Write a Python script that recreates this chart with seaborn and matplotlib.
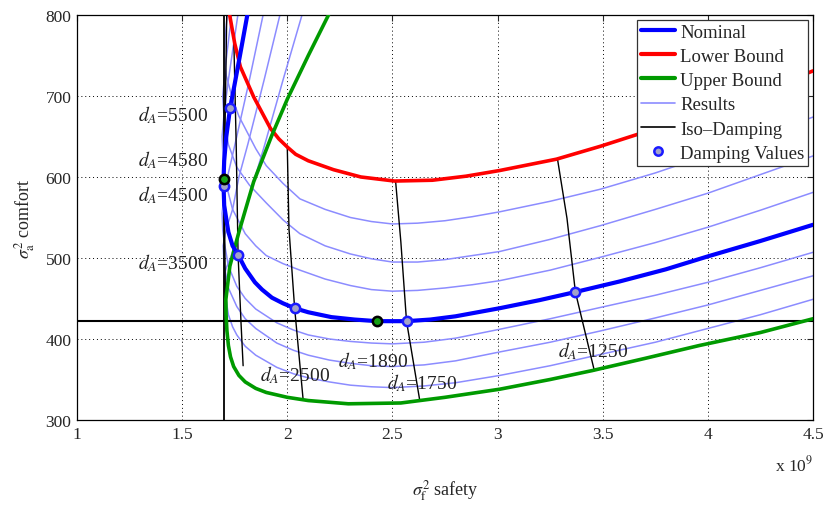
import matplotlib
matplotlib.use("Agg")
import matplotlib.pyplot as plt
from matplotlib.lines import Line2D
import seaborn as sns

# safety values are in units of 1e9
nominal_x = [1.81, 1.775, 1.75, 1.728, 1.71, 1.70, 1.697, 1.697, 1.70, 1.71, 1.72, 1.74, 1.766, 1.80,
             1.846, 1.88, 1.927, 1.98, 2.035, 2.1, 2.21, 2.32, 2.427, 2.567, 2.68, 2.8, 3.01, 3.2,
             3.37, 3.58, 3.8, 4.0, 4.25, 4.5]
nominal_y = [800, 750, 715, 685, 650, 620, 598, 589, 565, 548, 532, 515, 504, 487,
             470, 461, 451, 444, 438, 433, 427, 424, 422, 422, 424, 428, 438, 448,
             458, 471, 486, 502, 521, 541]

lower_x = [1.726, 1.75, 1.777, 1.84, 1.92, 1.96, 2.0, 2.04, 2.1, 2.22, 2.35, 2.51, 2.69, 2.85,
           3.01, 3.28, 3.49, 3.67, 4.0, 4.25, 4.5]
lower_y = [800, 765, 736, 699, 660, 647, 637, 628, 620, 609, 600, 595, 596, 601,
           608, 622, 638, 653, 682, 705, 731]

upper_x = [2.196, 2.10, 2.00, 1.926, 1.84, 1.77, 1.727, 1.708, 1.709, 1.713, 1.72, 1.73, 1.745,
           1.77, 1.80, 1.85, 1.90, 2.0, 2.1, 2.29, 2.54, 2.75, 3.01, 3.25, 3.45, 3.7, 3.96, 4.25, 4.5]
upper_y = [800, 750, 696, 651, 594, 532, 490, 449, 430, 410, 392, 378, 366,
           355, 347, 339, 334, 328, 324, 320, 321, 328, 338, 350, 361, 376, 392, 408, 425]

res1_x = [1.715, 1.705, 1.70, 1.71, 1.74, 1.77, 1.81, 1.85, 1.90, 1.98, 2.06, 2.18, 2.3, 2.4, 2.5,
          2.62, 2.75, 2.88, 3.01, 3.25, 3.49, 3.75, 4.0, 4.25, 4.5]
res1_y = [800, 775, 750, 725, 696, 675, 655, 635, 614, 592, 573, 560, 550, 545, 542,
          543, 546, 551, 557, 570, 585, 605, 627, 650, 674]
res2_x = [1.735, 1.705, 1.693, 1.70, 1.72, 1.76, 1.82, 1.90, 1.98, 2.06, 2.18, 2.3, 2.4, 2.5,
          2.62, 2.75, 2.88, 3.01, 3.25, 3.49, 3.75, 4.0, 4.25, 4.5]
res2_y = [800, 735, 700, 670, 640, 612, 590, 568, 547, 530, 515, 505, 499, 495,
          495, 498, 503, 508, 523, 540, 560, 580, 603, 626]
res3_x = [1.765, 1.72, 1.70, 1.69, 1.695, 1.71, 1.74, 1.80, 1.85, 1.90, 1.98, 2.06, 2.18, 2.3,
          2.4, 2.5, 2.62, 2.75, 2.88, 3.01, 3.25, 3.49, 3.75, 4.0, 4.25, 4.5]
res3_y = [800, 720, 680, 650, 620, 590, 560, 530, 515, 503, 493, 485, 474, 466,
          461, 459, 460, 463, 467, 472, 485, 501, 519, 538, 559, 581]
res4_x = [1.885, 1.82, 1.752, 1.72, 1.70, 1.69, 1.693, 1.70, 1.72, 1.76, 1.80, 1.85, 1.95, 2.03,
          2.1, 2.2, 2.3, 2.4, 2.5, 2.65, 2.8, 3.01, 3.25, 3.49, 3.75, 4.0, 4.25, 4.5]
res4_y = [800, 720, 641, 605, 580, 555, 535, 520, 490, 465, 450, 437, 420, 411,
          405, 400, 397, 395, 394, 396, 401, 412, 425, 439, 454, 470, 488, 507]
res5_x = [1.965, 1.89, 1.813, 1.77, 1.74, 1.715, 1.705, 1.695, 1.70, 1.72, 1.76, 1.80, 1.85, 1.95,
          2.03, 2.1, 2.2, 2.3, 2.4, 2.5, 2.65, 2.8, 3.01, 3.25, 3.49, 3.75, 4.0, 4.25, 4.5]
res5_y = [800, 720, 641, 600, 560, 540, 530, 515, 490, 463, 440, 425, 413, 395,
          386, 380, 374, 370, 367, 366, 368, 373, 384, 396, 410, 426, 442, 460, 478]
res6_x = [2.07, 1.98, 1.894, 1.83, 1.78, 1.75, 1.73, 1.71, 1.70, 1.705, 1.72, 1.74, 1.76, 1.80,
          1.85, 1.95, 2.03, 2.1, 2.2, 2.3, 2.4, 2.5, 2.65, 2.8, 3.01, 3.25, 3.49, 3.75, 4.0,
          4.25, 4.5]
res6_y = [800, 720, 641, 585, 540, 517, 500, 488, 478, 455, 430, 415, 405, 391,
          380, 365, 357, 352, 347, 343, 341, 340, 342, 346, 355, 367, 381, 396, 413,
          430, 449]
results = [(res1_x, res1_y), (res2_x, res2_y), (res3_x, res3_y),
           (res4_x, res4_y), (res5_x, res5_y), (res6_x, res6_y)]

iso_1250_x = [3.285, 3.33, 3.37, 3.46]
iso_1250_y = [622, 549, 458, 361]
iso_1750_x = [2.515, 2.54, 2.567, 2.63]
iso_1750_y = [595, 520, 422, 324]
iso_2500_x = [2.00, 2.008, 2.035, 2.075]
iso_2500_y = [637, 536, 438, 326]
iso_3500_x = [1.745, 1.757, 1.766, 1.78, 1.79]
iso_3500_y = [778, 641, 504, 420, 367]
iso_4500_x = [1.712, 1.700, 1.706]
iso_4500_y = [800, 589, 445]
iso_lines = [(iso_1250_x, iso_1250_y), (iso_1750_x, iso_1750_y), (iso_2500_x, iso_2500_y),
             (iso_3500_x, iso_3500_y), (iso_4500_x, iso_4500_y)]

damp_x = [1.728, 1.697, 1.766, 2.035, 2.567, 3.37]
damp_y = [685, 589, 504, 438, 422, 458]
opt_x = [1.697, 2.427]
opt_y = [598, 422]

min_safety = 1.697
min_comfort = 422

labels = ["5500", "4580", "4500", "3500", "2500", "1890", "1750", "1250"]
label_x = [1.623, 1.623, 1.623, 1.623, 1.87, 2.24, 2.474, 3.287]
label_y = [678, 622, 579, 495, 357, 374, 347, 386]
label_ha = ["right", "right", "right", "right", "left", "left", "left", "left"]

sns.set_style("white")
plt.rcParams["font.family"] = ["Liberation Serif", "DejaVu Serif"]
plt.rcParams["mathtext.fontset"] = "stix"

fig, ax = plt.subplots(figsize=(8.26, 5.06), dpi=100)
fig.subplots_adjust(left=0.0932, right=0.9843, top=0.9684, bottom=0.168)

res_color = "#8c8cff"
for rx, ry in results:
    sns.lineplot(x=rx, y=ry, sort=False, estimator=None, color=res_color, lw=1.1, ax=ax, zorder=2)

for ix, iy in iso_lines:
    sns.lineplot(x=ix, y=iy, sort=False, estimator=None, color="black", lw=1.0, ax=ax, zorder=3)

ax.axvline(min_safety, color="black", lw=1.3, zorder=3)
ax.axhline(min_comfort, color="black", lw=1.5, zorder=3)

sns.lineplot(x=lower_x, y=lower_y, sort=False, estimator=None, color="#ff0000", lw=2.6, ax=ax, zorder=4)
sns.lineplot(x=upper_x, y=upper_y, sort=False, estimator=None, color="#009a00", lw=2.6, ax=ax, zorder=4)
sns.lineplot(x=nominal_x, y=nominal_y, sort=False, estimator=None, color="#0000ff", lw=3.0, ax=ax, zorder=5)

sns.scatterplot(x=damp_x, y=damp_y, s=45, color="#a3a3c8", edgecolor="#1a1aff", linewidth=1.8,
                ax=ax, zorder=6)
sns.scatterplot(x=opt_x, y=opt_y, s=45, color="#14a014", edgecolor="black", linewidth=1.8,
                ax=ax, zorder=6)

for t, tx, ty, ha in zip(labels, label_x, label_y, label_ha):
    ax.text(tx, ty, r"$d_A$=" + t, ha=ha, va="center", fontsize=14, color="#222222", zorder=7)

ax.set_xlim(1, 4.5)
ax.set_ylim(300, 800)
ax.set_xticks([1, 1.5, 2, 2.5, 3, 3.5, 4, 4.5])
ax.set_xticklabels(["1", "1.5", "2", "2.5", "3", "3.5", "4", "4.5"])
ax.set_yticks([300, 400, 500, 600, 700, 800])
ax.tick_params(direction="in", length=4, labelsize=12.5, top=True, right=True, pad=4)
ax.grid(True, linestyle=(0, (1, 3)), color="black", lw=0.7)
for sp in ax.spines.values():
    sp.set_color("black")
    sp.set_linewidth(0.9)

ax.set_xlabel(r"$\sigma_\mathrm{f}^2$ safety", fontsize=13, labelpad=26)
ax.set_ylabel(r"$\sigma_\mathrm{a}^2$ comfort", fontsize=13, labelpad=6)
ax.text(1.0, -0.085, r"x 10$^9$", transform=ax.transAxes, ha="right", va="top", fontsize=12.5)

handles = [
    Line2D([], [], color="#0000ff", lw=3.0),
    Line2D([], [], color="#ff0000", lw=3.0),
    Line2D([], [], color="#009a00", lw=3.0),
    Line2D([], [], color=res_color, lw=1.2),
    Line2D([], [], color="black", lw=1.2),
    Line2D([], [], ls="none", marker="o", markersize=6, markerfacecolor="#a3a3c8",
           markeredgecolor="#1a1aff", markeredgewidth=1.8),
]
names = ["Nominal", "Lower Bound", "Upper Bound", "Results", "Iso\u2013Damping", "Damping Values"]
leg = ax.legend(handles, names, loc="upper right", fontsize=13.5, frameon=True, fancybox=False,
                framealpha=1, edgecolor="#333333", borderpad=0.2, labelspacing=0.38,
                handlelength=1.8, handletextpad=0.3, borderaxespad=0.25)
leg.get_frame().set_linewidth(0.9)
leg.set_zorder(10)

fig.savefig("out.png", dpi=100)
